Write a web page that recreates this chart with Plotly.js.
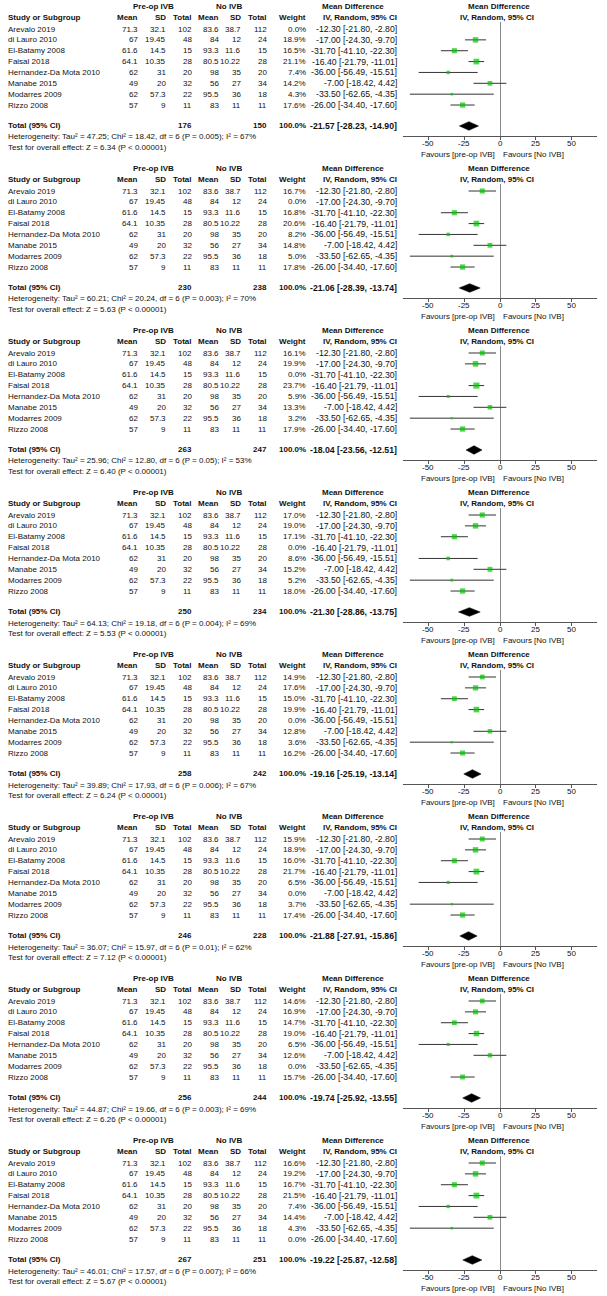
<!DOCTYPE html>
<html><head><meta charset="utf-8">
<script src="https://cdn.plot.ly/plotly-3.0.1.min.js"></script>
<style>html,body{margin:0;padding:0;background:#fff}</style>
</head><body><div id="chart" style="width:607px;height:1296px"></div>
<script>
// ---- data ----
const studies = ["Arevalo 2019","di Lauro 2010","El-Batamy 2008","Faisal 2018","Hernandez-Da Mota 2010","Manabe 2015","Modarres 2009","Rizzo 2008"];
const preMean = [71.3, 67, 61.6, 64.1, 62, 49, 62, 57];
const preSD   = [32.1, 19.45, 14.5, 10.35, 31, 20, 57.3, 9];
const preN    = [102, 48, 15, 28, 20, 32, 22, 11];
const noMean  = [83.6, 84, 93.3, 80.5, 98, 56, 95.5, 83];
const noSD    = [38.7, 12, 11.6, 10.22, 35, 27, 36, 11];
const noN     = [112, 24, 15, 28, 20, 34, 18, 11];
const md      = [-12.30, -17.00, -31.70, -16.40, -36.00, -7.00, -33.50, -26.00];
const ciLow   = [-21.80, -24.30, -41.10, -21.79, -56.49, -18.42, -62.65, -34.40];
const ciHigh  = [-2.80, -9.70, -22.30, -11.01, -15.51, 4.42, -4.35, -17.60];
const weights = [
  [0.0, 18.9, 16.5, 21.1, 7.4, 14.2, 4.3, 17.6],
  [16.7, 0.0, 16.8, 20.6, 8.2, 14.8, 5.0, 17.8],
  [16.1, 19.9, 0.0, 23.7, 5.9, 13.3, 3.2, 17.9],
  [17.0, 19.0, 17.1, 0.0, 8.6, 15.2, 5.2, 18.0],
  [14.9, 17.6, 15.0, 19.9, 0.0, 12.8, 3.6, 16.2],
  [15.9, 18.9, 16.0, 21.7, 6.5, 0.0, 3.7, 17.4],
  [14.6, 16.9, 14.7, 19.0, 6.5, 12.6, 0.0, 15.7],
  [16.6, 19.2, 16.7, 21.5, 7.4, 14.4, 4.3, 0.0]
];
const totalPre   = [176, 230, 263, 250, 258, 246, 256, 267];
const totalNo    = [150, 238, 247, 234, 242, 228, 244, 251];
const pooledMD   = [-21.57, -21.06, -18.04, -21.30, -19.16, -21.88, -19.74, -19.22];
const pooledLow  = [-28.23, -28.39, -23.56, -28.86, -25.19, -27.91, -25.92, -25.87];
const pooledHigh = [-14.90, -13.74, -12.51, -13.75, -13.14, -15.86, -13.55, -12.58];
const tau2  = ["47.25", "60.21", "25.96", "64.13", "39.89", "36.07", "44.87", "46.01"];
const chi2  = ["18.42", "20.24", "12.80", "19.18", "17.93", "15.97", "19.66", "17.57"];
const hetDf = [6, 6, 6, 6, 6, 6, 6, 6];
const hetP  = ["0.005", "0.003", "0.05", "0.004", "0.006", "0.01", "0.003", "0.007"];
const i2    = [67, 70, 53, 69, 67, 62, 69, 66];
const zVal  = ["6.34", "5.63", "6.40", "5.53", "6.24", "7.12", "6.26", "5.67"];
const tickVals = [-50, -25, 0, 25, 50];
const tickText = ["-50", "-25", "0", "25", "50"];

// ---- layout helpers ----
const W = 607, H = 1296, PANEL_H = 162;
const FONT = "Liberation Sans, Arial, sans-serif";
const FS = 8, FS_CI = 8.7;
const ROW0 = 29, ROW_STEP = 10.86, TOTAL_ROW = 8.93;
const Y_TOP = 22, Y_BOT = 136;
const yRange = [(Y_BOT - ROW0) / ROW_STEP, (Y_TOP - ROW0) / ROW_STEP];

function ann(text, x, y, anchor, bold, size) {
  return {text: text, x: x / W, y: 1 - y / H, xref: 'paper', yref: 'paper',
    xanchor: anchor, yanchor: 'middle', showarrow: false, borderpad: 0, borderwidth: 0,
    font: {family: FONT, size: size || FS, color: '#111', weight: bold ? 'bold' : 'normal'}};
}
const f2 = v => v.toFixed(2);
const ciText = (m, l, h) => f2(m) + " [" + f2(l) + ", " + f2(h) + "]";

const traces = [];
const annotations = [];
const layout = {width: W, height: H, margin: {l: 0, r: 0, t: 0, b: 0},
  paper_bgcolor: '#fff', plot_bgcolor: 'rgba(0,0,0,0)', showlegend: false,
  annotations: annotations};

for (let p = 0; p < 8; p++) {
  const top = p * PANEL_H;
  const s = p === 0 ? '' : String(p + 1);
  const rowY = r => top + ROW0 + r * ROW_STEP;

  // headers
  annotations.push(ann("Pre-op IVB", 153, top + 6, 'center', true));
  annotations.push(ann("No IVB", 229, top + 6, 'center', true));
  annotations.push(ann("Mean Difference", 353, top + 6, 'center', true));
  annotations.push(ann("Mean Difference", 499, top + 6, 'center', true));
  annotations.push(ann("Study or Subgroup", 8, top + 17, 'left', true));
  [["Mean",138],["SD",166],["Total",192],["Mean",219],["SD",241],["Total",267],["Weight",306],["IV, Random, 95% CI",397]]
    .forEach(h => annotations.push(ann(h[0], h[1], top + 17, 'right', true)));
  annotations.push(ann("IV, Random, 95% CI", 497, top + 17, 'center', true));

  // study rows
  const w = weights[p];
  for (let i = 0; i < studies.length; i++) {
    const y = rowY(i);
    annotations.push(ann(studies[i], 8, y, 'left', false));
    annotations.push(ann(String(preMean[i]), 138, y, 'right', false));
    annotations.push(ann(String(preSD[i]), 166, y, 'right', false));
    annotations.push(ann(String(preN[i]), 192, y, 'right', false));
    annotations.push(ann(String(noMean[i]), 219, y, 'right', false));
    annotations.push(ann(String(noSD[i]), 241, y, 'right', false));
    annotations.push(ann(String(noN[i]), 267, y, 'right', false));
    annotations.push(ann(w[i].toFixed(1) + "%", 306, y, 'right', false));
    annotations.push(ann(ciText(md[i], ciLow[i], ciHigh[i]), 397, y, 'right', false, FS_CI));
  }
  // total row
  const ty = top + ROW0 + TOTAL_ROW * ROW_STEP;
  annotations.push(ann("Total (95% CI)", 8, ty, 'left', true));
  annotations.push(ann(String(totalPre[p]), 192, ty, 'right', true));
  annotations.push(ann(String(totalNo[p]), 267, ty, 'right', true));
  annotations.push(ann("100.0%", 306, ty, 'right', true));
  annotations.push(ann(ciText(pooledMD[p], pooledLow[p], pooledHigh[p]), 397, ty, 'right', true, FS_CI));
  annotations.push(ann("Heterogeneity: Tau² = " + tau2[p] + "; Chi² = " + chi2[p] + ", df = " + hetDf[p] +
    " (P = " + hetP[p] + "); I² = " + i2[p] + "%", 8, top + 137, 'left', false));
  annotations.push(ann("Test for overall effect: Z = " + zVal[p] + " (P &lt; 0.00001)", 8, top + 147, 'left', false));
  annotations.push(ann("Favours [pre-op IVB]", 495, top + 154.5, 'right', false));
  annotations.push(ann("Favours [No IVB]", 503, top + 154.5, 'left', false));
  // tick labels (placed on the axis scale)
  tickVals.forEach((v, k) => annotations.push({text: tickText[k], x: v, xref: 'x' + s,
    y: 1 - (top + 143) / H, yref: 'paper', xanchor: 'center', yanchor: 'middle', showarrow: false,
    borderpad: 0, borderwidth: 0, font: {family: FONT, size: FS, color: '#111'}}));

  // study markers with CI
  const inc = [];
  for (let i = 0; i < studies.length; i++) if (w[i] > 0) inc.push(i);
  traces.push({
    type: 'scatter', mode: 'markers', xaxis: 'x' + s, yaxis: 'y' + s,
    x: inc.map(i => md[i]), y: inc,
    marker: {symbol: 'square', color: '#00c400', size: inc.map(i => 1.25 * Math.sqrt(w[i])), line: {width: 0}},
    error_x: {type: 'data', symmetric: false, array: inc.map(i => ciHigh[i] - md[i]),
      arrayminus: inc.map(i => md[i] - ciLow[i]), width: 0, thickness: 1, color: '#333'},
    hoverinfo: 'skip'
  });
  // pooled diamond
  const dh = 0.4;
  traces.push({
    type: 'scatter', mode: 'lines', xaxis: 'x' + s, yaxis: 'y' + s, fill: 'toself',
    fillcolor: '#000', line: {color: '#000', width: 0.5},
    x: [pooledLow[p], pooledMD[p], pooledHigh[p], pooledMD[p], pooledLow[p]],
    y: [TOTAL_ROW, TOTAL_ROW - dh, TOTAL_ROW, TOTAL_ROW + dh, TOTAL_ROW],
    hoverinfo: 'skip'
  });

  layout['xaxis' + s] = {domain: [403 / W, 597 / W], range: [-67.4, 67.4], anchor: 'y' + s,
    showgrid: false, zeroline: true, zerolinecolor: '#8a8a8a', zerolinewidth: 1,
    showline: true, linecolor: '#555', linewidth: 1, ticks: 'outside', ticklen: 3, tickcolor: '#555',
    tickmode: 'array', tickvals: tickVals, showticklabels: false, fixedrange: true};
  layout['yaxis' + s] = {domain: [1 - (top + Y_BOT) / H, 1 - (top + Y_TOP) / H], range: yRange,
    anchor: 'x' + s, visible: false, showgrid: false, zeroline: false, fixedrange: true};
}

Plotly.newPlot('chart', traces, layout, {staticPlot: true, displayModeBar: false});
</script></body></html>
